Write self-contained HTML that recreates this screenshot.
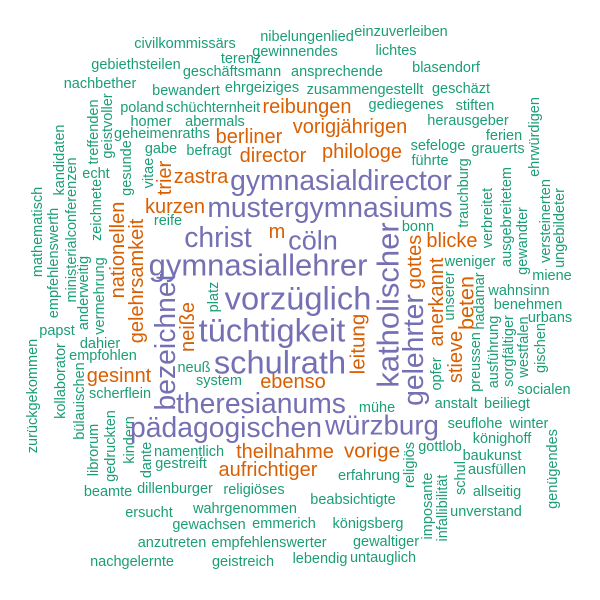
<!DOCTYPE html>
<html><head><meta charset="utf-8"><style>
html,body{margin:0;padding:0;background:#fff;}
svg{display:block;}
text{font-family:"Liberation Sans",Arial,sans-serif;}
</style></head><body>
<svg id="cloud" width="600" height="600" viewBox="0 0 600 600"></svg>
<script>
const words=["civilkommissärs","nibelungenlied","einzuverleiben","gewinnendes","lichtes","terenz","gebiethsteilen","geschäftsmann","ansprechende","blasendorf","nachbether","bewandert","ehrgeiziges","zusammengestellt","geschäzt","poland","schüchternheit","reibungen","gediegenes","stiften","herausgeber","homer","abermals","vorigjährigen","geheimenraths","berliner","philologe","ferien","sefeloge","grauerts","führte","ehrwürdigen","gabe","befragt","director","treffenden","geistvoller","kandidaten","ministerialconferenzen","echt","zeichnete","gesunde","vitae","trier","zastra","gymnasialdirector","trauchburg","mathematisch","empfehlenswerth","anderweitig","vermehrung","nationellen","gelehrsamkeit","kurzen","mustergymnasiums","reife","christ","m","cöln","bonn","gymnasiallehrer","katholischer","gottes","blicke","verbreitet","ausgebreitetem","gewandter","versteinerten","ungebildeter","miene","weniger","anerkannt","unserer","beten","stieve","hadamar","wahnsinn","benehmen","urbans","preussen","ausführung","sorgfältiger","westfalen","gischen","socialen","opfer","gelehrter","leitung","anstalt","beiliegt","mühe","würzburg","seuflohe","winter","könighoff","genügendes","religiös","gottlob","baukunst","vorige","theilnahme","aufrichtiger","erfahrung","imposante","infallibilität","schul","ausfüllen","allseitig","unverstand","beabsichtigte","königsberg","emmerich","gewaltiger","empfehlenswerter","lebendig","untauglich","papst","zurückgekommen","kollaborator","dahier","empfohlen","bülauischen","gesinnt","scherflein","librorum","gedruckten","kindern","dante","namentlich","gestreift","beamte","dillenburger","religiöses","ersucht","wahrgenommen","gewachsen","anzutreten","nachgelernte","geistreich","neuß","system","platz","neiße","bezeichnet","tüchtigkeit","schulrath","vorzüglich","ebenso","theresianums","pädagogischen"];
const freqs=[
2,2,2,2,2,2,2,2,2,2,      // 0-9
2,2,2,2,2,2,2,3,2,2,      // 10-19
2,2,2,3,2,3,3,2,2,2,      // 20-29
2,2,2,2,3,2,2,2,2,2,      // 30-39
2,2,2,3,3,4.5,2,2,2,2,    // 40-49
2,3,3,3,4.5,2,4.5,3,4.3,2,// 50-59
5,5,3,3,2,2,2,2,2,2,      // 60-69
2,3,2,3.3,3,2,2,2,2,2,    // 70-79
2,2,2,2,2,2,4.5,3.1,2,2,  // 80-89
2,4.4,2,2,2,2,2,2,2,3.1,  // 90-99
3,3,2,2,2,2,2,2,2,2,      // 100-109
2,2,2,2,2,2,2,2,2,2,      // 110-119
2,2,3,2,2,2,2,2,2,2,      // 120-129
2,2,2,2,2,2,2,2,2,2,      // 130-139
2,2,3,4.5,5.3,5.3,5.3,3,4.5,4.5 // 140-149
];
const vertical=[
0,0,0,0,0,0,0,0,0,0,
0,0,0,0,0,0,0,0,0,0,
0,0,0,0,0,0,0,0,0,0,
0,1,0,0,0,1,1,1,1,0,
1,1,1,1,0,0,1,1,1,1,
1,1,1,0,0,0,0,0,0,0,
0,1,1,0,1,1,1,1,1,0,
0,1,1,1,1,1,0,0,0,1,
1,1,1,1,0,1,1,1,0,0,
0,0,0,0,0,1,1,0,0,0,
0,0,0,1,1,1,0,0,0,0,
0,0,0,0,0,0,0,1,1,0,
0,1,0,0,1,1,1,1,0,0,
0,0,0,0,0,0,0,0,0,0,
0,1,1,1,0,0,0,0,0,0
];
// layout (word-cloud placement)
const layoutX=[185,307,401,295,396,241,136,232,337,446,100,186,262,365,461,142,213,307,406,475,468,151,215,350,162,249,362,504,438,498,430,535,161,209,273,94,108,60,72,96,97,127,149,165,201,341,464,38,54,84,100,118,137,175,330,168,218,277,313,418,258,388,415,452,488,507,523,546,560,552,470,437,450,466,456,480,519,528,550,476,494,509,524,541,544,437,413,358,456,507,377,382,475,529,502,553,410,440,492,372,285,268,369,428,443,461,497,497,486,353,368,284,386,269,320,383,57,33,61,100,103,80,119,120,94,111,130,147,189,181,108,175,254,149,245,209,172,132,243,194,219,214,188,165,272,280,298,293,261,226];
const layoutY=[44,37,32,52,51,59,65,72,72,68,84,91,88,90,89,108,108,107,105,106,121,122,122,127,134,137,152,136,146,149,161,137,149,151,156,132,126,160,230,174,210,168,173,178,177,180,193,232,263,293,296,250,281,207,207,221,237,232,240,227,265,305,262,241,218,217,241,221,228,276,262,302,296,303,357,301,291,305,318,362,352,351,347,348,390,374,350,344,404,404,408,425,424,424,439,469,465,447,456,451,452,470,476,506,508,478,470,492,512,500,524,524,542,543,559,558,331,396,381,344,356,401,376,394,450,446,440,460,452,464,492,489,490,513,509,525,543,562,562,368,381,297,327,342,330,362,298,382,403,427];
const colors=["#1b9e77","#d95f02","#7570b3"];
function sizeScale(f){return 14.5+(f-2)*5.5;}
function colorScale(f){return f<3?colors[0]:(f<4?colors[1]:colors[2]);}
const svg=document.getElementById('cloud');
const NS="http://www.w3.org/2000/svg";
for(let i=0;i<words.length;i++){
  const t=document.createElementNS(NS,'text');
  const x=layoutX[i],y=layoutY[i];
  t.setAttribute('x',x);
  t.setAttribute('y',y);
  t.setAttribute('text-anchor','middle');
  t.setAttribute('dominant-baseline','central');
  t.setAttribute('font-size',sizeScale(freqs[i]).toFixed(1));
  t.setAttribute('fill',colorScale(freqs[i]));
  if(vertical[i]) t.setAttribute('transform','rotate(-90 '+x+' '+y+')');
  t.textContent=words[i];
  
  
  svg.appendChild(t);
}
</script>
</body></html>
